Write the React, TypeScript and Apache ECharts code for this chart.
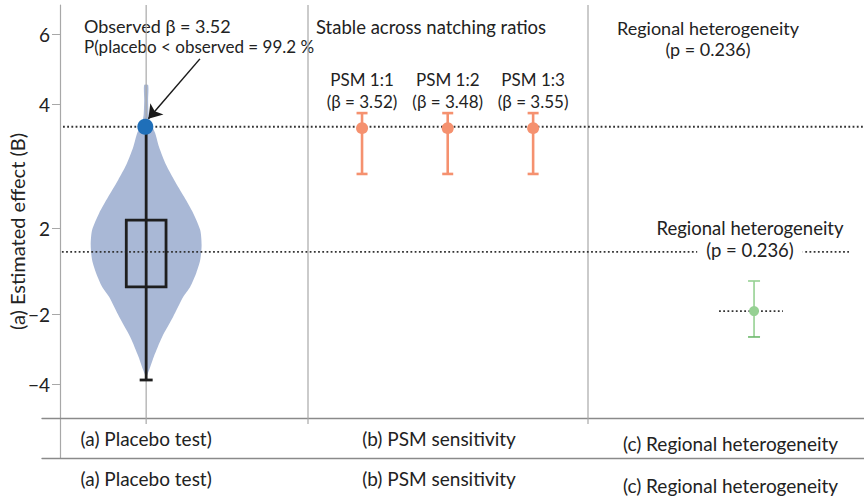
import React, { useEffect, useRef } from "react";
import * as echarts from "echarts";

// ---- axis ticks (labels and where they sit on the drawn scale) ----
const yTickLabels = ["6", "4", "2", "-2", "-4"];
const yTickAt = [6, 4, 0.475, -2, -4];

// ---- panels ----
const panelLabels = ["(a) Placebo test)", "(b) PSM sensitivity", "(c) Regional heterogeneity"];
const panelLabelAt = [0.422, 1.468, 2.509];
const panelLines = [0.422, 1, 2];

// ---- (a) placebo test ----
const placeboX = 0.422;
const observedY = 3.37;
const violinY = [4.56, 4.13, 3.71, 3.51, 3.19, 2.79, 2.28, 1.85, 1.36, 0.9, 0.42, -0.01, -0.44, -0.81, -1.21, -1.5, -2.07, -2.64, -3.21, -3.58, -3.81];
const violinHalfWidth = [0.007, 0.007, 0.009, 0.014, 0.032, 0.046, 0.071, 0.1, 0.136, 0.168, 0.193, 0.198, 0.193, 0.179, 0.157, 0.132, 0.096, 0.057, 0.027, 0.011, 0];
const boxQ3 = 0.7;
const boxQ1 = -1.21;
const whiskerLow = -3.87;

// ---- (b) PSM sensitivity ----
const psmNames = ["PSM 1:1", "PSM 1:2", "PSM 1:3"];
const psmBeta = [3.52, 3.48, 3.55];
const psmX = [1.193, 1.499, 1.804];
const psmY = [3.33, 3.33, 3.33];
const psmLow = [2.02, 2.02, 2.02];
const psmHigh = [3.76, 3.76, 3.76];

// ---- (c) regional heterogeneity ----
const regionX = [2.593];
const regionY = [-1.9];
const regionLow = [-2.64];
const regionHigh = [-1.04];

// ---- reference lines ----
const refUpper = { y: 3.37, from: 0.125, to: 3.0 };
const refLower = { y: -0.21, from: 0.121, to: 2.932 };
const refRegion = { y: -1.9, from: 2.468, to: 2.696 };

const FONT = "Lato, 'Noto Sans', sans-serif";
const TXT = "#222";
const GRAY = "#a8a8a8";

export default function App() {
  const ref = useRef<HTMLDivElement>(null);
  useEffect(() => {
    if (!ref.current) return;
    const chart = echarts.init(ref.current, null, { renderer: "svg" });

    const dotted = { color: "#333", width: 1.8, type: [1.8, 2.4] as any };
    const refLine = (r: { y: number; from: number; to: number }) => ({
      type: "line",
      data: [[r.from, r.y], [r.to, r.y]],
      symbol: "none",
      lineStyle: dotted,
      silent: true,
      z: 3,
    });

    const errorBars = (xs: number[], lo: number[], hi: number[], color: string, width: number, cap: number, capColor?: string) => ({
      type: "custom",
      data: xs.map((x, i) => [x, lo[i], hi[i]]),
      encode: { x: 0, y: [1, 2] },
      z: 4,
      renderItem: (params: any, api: any) => {
        const x = api.value(0);
        const top = api.coord([x, api.value(2)]);
        const bot = api.coord([x, api.value(1)]);
        const st = { stroke: color, lineWidth: width };
        return {
          type: "group",
          children: [
            { type: "line", shape: { x1: top[0], y1: top[1], x2: bot[0], y2: bot[1] }, style: st },
            { type: "line", shape: { x1: top[0] - cap, y1: top[1], x2: top[0] + cap, y2: top[1] }, style: st },
            { type: "line", shape: { x1: bot[0] - cap, y1: bot[1], x2: bot[0] + cap, y2: bot[1] }, style: { stroke: capColor || color, lineWidth: width } },
          ],
        };
      },
    });

    const xLabel = (padTop: number) => ({
      customValues: panelLabelAt,
      formatter: (v: number) => {
        const i = panelLabelAt.findIndex((p) => Math.abs(p - v) < 1e-6);
        return i === 2 ? `{c|${panelLabels[i]}}` : `{n|${panelLabels[i]}}`;
      },
      margin: 11,
      rich: {
        n: { fontSize: 19, color: TXT, fontFamily: FONT },
        c: { fontSize: 19, color: TXT, fontFamily: FONT, padding: [padTop, 0, 0, 0] },
      },
    });

    const option: any = {
      animation: false,
      textStyle: { fontFamily: FONT },
      grid: { left: 42, top: 5, width: 826, height: 453, outerBoundsMode: "none", containLabel: false },
      xAxis: [
        {
          type: "value",
          min: 0.05,
          max: 3.0,
          position: "bottom",
          offset: -40,
          splitLine: { show: false },
          axisLine: { show: true, onZero: false, lineStyle: { color: "#8a8a8a", width: 1.3 } },
          axisTick: { show: false },
          axisLabel: xLabel(5),
        },
        {
          type: "value",
          min: 0.05,
          max: 3.0,
          position: "bottom",
          offset: 0,
          splitLine: { show: false },
          axisLine: { show: true, onZero: false, lineStyle: { color: "#8a8a8a", width: 1.3 } },
          axisTick: { show: false },
          axisLabel: xLabel(7),
        },
      ],
      yAxis: {
        type: "value",
        min: -6.1,
        max: 6.85,
        offset: -18,
        splitLine: { show: false },
        axisLine: { show: true, onZero: false, lineStyle: { color: GRAY, width: 1.2 } },
        axisTick: { show: true, customValues: yTickAt, length: 8, lineStyle: { color: GRAY } },
        axisLabel: {
          customValues: yTickAt,
          formatter: (v: number) => {
            const i = yTickAt.findIndex((p) => Math.abs(p - v) < 1e-6);
            return (yTickLabels[i] || "").replace("-", "\u2212");
          },
          fontSize: 19,
          color: TXT,
          margin: 10,
        },
        name: "(a) Estimated effect (B)",
        nameLocation: "middle",
        nameRotate: 90,
        nameGap: 33,
        nameMoveOverlap: false,
        nameTextStyle: { fontSize: 20, color: TXT, fontFamily: FONT },
      },
      series: [
        // violin
        {
          type: "custom",
          data: [[placeboX]],
          encode: { x: 0 },
          z: 1,
          renderItem: (params: any, api: any) => {
            const x = api.value(0);
            const right = violinY.map((y, i) => api.coord([x + violinHalfWidth[i], y]));
            const left = violinY.map((y, i) => api.coord([x - violinHalfWidth[i], y])).reverse();
            return {
              type: "polygon",
              shape: { points: right.concat(left), smooth: 0.25 },
              style: { fill: "#a9b8d6" },
            };
          },
        },
        // panel lines (vertical grid lines)
        {
          type: "custom",
          data: panelLines.map((x) => [x, 6.85, -5.13]),
          encode: { x: 0, y: [1, 2] },
          z: 2,
          silent: true,
          renderItem: (params: any, api: any) => {
            const a = api.coord([api.value(0), api.value(1)]);
            const b = api.coord([api.value(0), api.value(2)]);
            return { type: "line", shape: { x1: a[0], y1: a[1], x2: b[0], y2: b[1] }, style: { stroke: GRAY, lineWidth: 1.2 } };
          },
        },
        refLine(refUpper),
        refLine(refLower),
        refLine(refRegion),
        // box + whisker
        {
          type: "custom",
          data: [[placeboX, boxQ1, boxQ3, whiskerLow, observedY]],
          encode: { x: 0, y: [1, 2, 3, 4] },
          z: 5,
          renderItem: (params: any, api: any) => {
            const x = api.value(0);
            const tl = api.coord([x - 0.071, api.value(2)]);
            const br = api.coord([x + 0.071, api.value(1)]);
            const wt = api.coord([x, api.value(4)]);
            const wb = api.coord([x, api.value(3)]);
            const st = { stroke: "#1e1e1e", lineWidth: 2.8, fill: "none" };
            return {
              type: "group",
              children: [
                { type: "rect", shape: { x: tl[0], y: tl[1], width: br[0] - tl[0], height: br[1] - tl[1] }, style: st },
                { type: "line", shape: { x1: wt[0], y1: wt[1], x2: wb[0], y2: wb[1] }, style: st },
                { type: "line", shape: { x1: wb[0] - 6.5, y1: wb[1], x2: wb[0] + 6.5, y2: wb[1] }, style: st },
              ],
            };
          },
        },
        // observed point + arrow
        {
          type: "scatter",
          data: [[placeboX - 0.003, observedY]],
          symbolSize: 16,
          itemStyle: { color: "#1f6fb9", opacity: 1 },
          z: 6,
          markLine: {
            silent: true,
            symbol: ["none", "arrow"],
            symbolSize: 13,
            label: { show: false },
            lineStyle: { color: "#1a1a1a", width: 1.5, type: "solid" },
            data: [[{ coord: [0.614, 5.31] }, { coord: [0.43, 3.6] }]],
          },
        },
        // PSM
        errorBars(psmX, psmLow, psmHigh, "#f5916f", 2.6, 5.5),
        {
          type: "scatter",
          data: psmX.map((x, i) => [x, psmY[i]]),
          symbolSize: 12,
          itemStyle: { color: "#f5916f", opacity: 1 },
          z: 6,
          label: {
            show: true,
            position: "top",
            distance: 10,
            formatter: (p: any) => `${psmNames[p.dataIndex]}\n(β = ${psmBeta[p.dataIndex].toFixed(2)})`,
            fontSize: 17,
            lineHeight: 22,
            color: TXT,
            fontFamily: FONT,
            align: "center",
          },
        },
        // regional
        errorBars(regionX, regionLow, regionHigh, "#96d193", 1.6, 6, "#6cb86a"),
        {
          type: "scatter",
          data: regionX.map((x, i) => [x, regionY[i]]),
          symbolSize: 10,
          itemStyle: { color: "#96d193", opacity: 1 },
          z: 6,
        },
      ],
      graphic: [
        { type: "text", left: 84, top: 17, style: { text: "Observed β = 3.52", fontSize: 18, fill: TXT, fontFamily: FONT } },
        { type: "text", left: 84, top: 38, style: { text: "P(placebo < observed = 99.2 %", fontSize: 17, fill: TXT, fontFamily: FONT } },
        { type: "text", left: 316, top: 17, style: { text: "Stable across natching ratios", fontSize: 18.5, fill: TXT, fontFamily: FONT } },
        { type: "text", x: 708, y: 28, style: { text: "Regional heterogeneity", fontSize: 18, fill: TXT, fontFamily: FONT, align: "center", verticalAlign: "middle" } },
        { type: "text", x: 708, y: 49, style: { text: "(p = 0.236)", fontSize: 18, fill: TXT, fontFamily: FONT, align: "center", verticalAlign: "middle" } },
        { type: "text", x: 750, y: 228, z: 10, style: { text: "Regional heterogeneity", fontSize: 18.5, fill: TXT, fontFamily: FONT, align: "center", verticalAlign: "middle" } },
        { type: "text", x: 750, y: 250, z: 10, style: { text: "(p = 0.236)", fontSize: 18.5, fill: TXT, fontFamily: FONT, align: "center", verticalAlign: "middle", backgroundColor: "#fff", padding: [0, 9] } },
      ],
    };
    chart.setOption(option);
    return () => chart.dispose();
  }, []);
  return <div ref={ref} style={{ width: 864, height: 500, position: "absolute", left: 0, top: 0 }} />;
}
